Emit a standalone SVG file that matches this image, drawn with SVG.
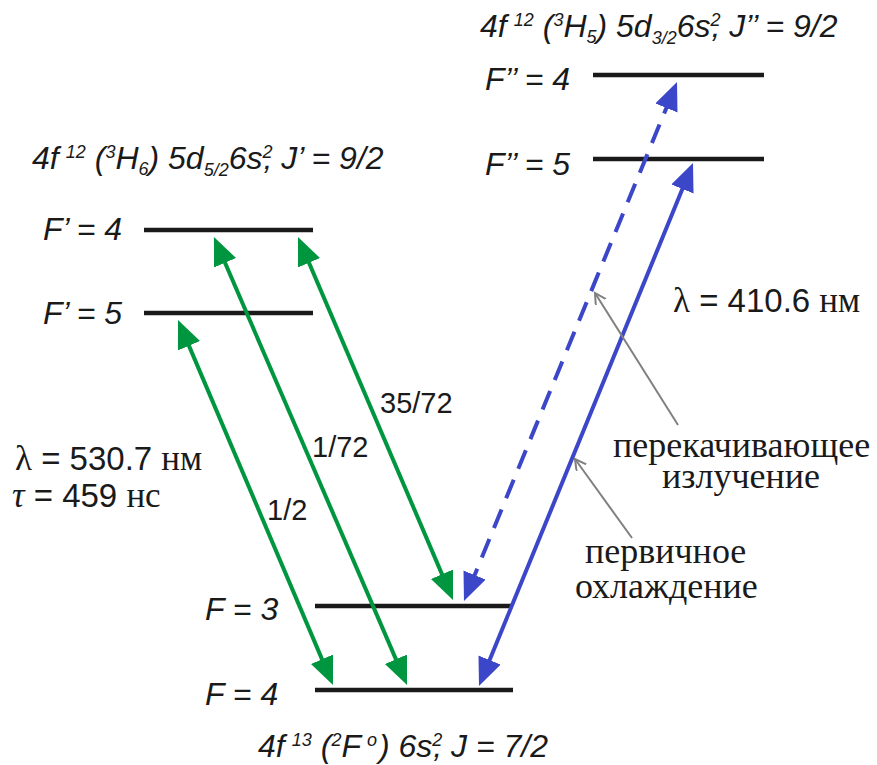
<svg xmlns="http://www.w3.org/2000/svg" width="877" height="765" viewBox="0 0 877 765">
<style>
.lvl{stroke:#1a1a1a;stroke-width:4.5;fill:none}
.lab{font-family:"Liberation Sans",Arial,sans-serif;font-style:italic;font-size:32px;fill:#1a1a1a}
.cfg{font-family:"Liberation Sans",Arial,sans-serif;font-style:italic;font-size:32px;fill:#1a1a1a}
.num{font-family:"Liberation Sans",Arial,sans-serif;font-size:29px;fill:#1a1a1a}
.big{font-family:"Liberation Sans",Arial,sans-serif;font-size:33px;fill:#1a1a1a}
.ser{font-family:"Liberation Serif","Times New Roman",serif;font-size:35px;fill:#1a1a1a}
.rus{font-family:"Liberation Serif","Times New Roman",serif;font-size:36px;fill:#1a1a1a}
.sm{font-size:18px}
.g{stroke:#009640;stroke-width:4;fill:none;marker-start:url(#hg);marker-end:url(#hg)}
.b{stroke:#3c46c8;stroke-width:4;fill:none;marker-start:url(#hb);marker-end:url(#hb)}
.bd{stroke-dasharray:20 12}
.gr{stroke:#808080;stroke-width:2;fill:none;marker-end:url(#hgr)}
</style>
<defs>
<marker id="hg" markerUnits="userSpaceOnUse" markerWidth="30" markerHeight="26" refX="14" refY="12" orient="auto-start-reverse" viewBox="0 0 30 26"><path d="M0,0 L28,12 L0,24 z" fill="#009640"/></marker>
<marker id="hb" markerUnits="userSpaceOnUse" markerWidth="30" markerHeight="26" refX="14" refY="12" orient="auto-start-reverse" viewBox="0 0 30 26"><path d="M0,0 L28,12 L0,24 z" fill="#3c46c8"/></marker>
<marker id="hgr" markerUnits="userSpaceOnUse" markerWidth="14" markerHeight="14" refX="11" refY="6" orient="auto" viewBox="0 0 14 14"><path d="M0,0 L11,6 L0,12" fill="none" stroke="#808080" stroke-width="2"/></marker>
</defs>
<rect width="877" height="765" fill="#ffffff"/>

<g id="state-upper2">
<text class="cfg" x="480" y="37">4f<tspan class="sm" dx="7" dy="-11">12</tspan><tspan dx="9" dy="11">(</tspan><tspan class="sm" dy="-11">3</tspan><tspan dy="11">H</tspan><tspan class="sm" dy="6">5</tspan><tspan dy="-6">) 5d</tspan><tspan class="sm" dy="7">3/2</tspan><tspan dy="-7">6s</tspan><tspan class="sm" dy="-11">2</tspan><tspan dx="-9" dy="11">, J’’ = 9/2</tspan></text>
</g>
<g id="level-Fpp4">
<line class="lvl" x1="593" y1="75" x2="764" y2="75"/>
<text class="lab" x="485" y="90">F’’ = 4</text>
</g>
<g id="level-Fpp5">
<line class="lvl" x1="593" y1="159" x2="764" y2="159"/>
<text class="lab" x="485" y="175">F’’ = 5</text>
</g>

<g id="state-upper1">
<text class="cfg" x="32" y="169">4f<tspan class="sm" dx="7" dy="-11">12</tspan><tspan dx="9" dy="11">(</tspan><tspan class="sm" dy="-11">3</tspan><tspan dy="11">H</tspan><tspan class="sm" dy="6">6</tspan><tspan dy="-6">) 5d</tspan><tspan class="sm" dy="7">5/2</tspan><tspan dy="-7">6s</tspan><tspan class="sm" dy="-11">2</tspan><tspan dx="-9" dy="11">, J’ = 9/2</tspan></text>
</g>
<g id="level-Fp4">
<line class="lvl" x1="144" y1="230" x2="313" y2="230"/>
<text class="lab" x="43" y="240">F’ = 4</text>
</g>
<g id="level-Fp5">
<line class="lvl" x1="144" y1="313" x2="313" y2="313"/>
<text class="lab" x="43" y="324">F’ = 5</text>
</g>

<g id="level-F3">
<line class="lvl" x1="315" y1="606" x2="513" y2="606"/>
<text class="lab" x="205" y="620">F = 3</text>
</g>
<g id="level-F4">
<line class="lvl" x1="315" y1="690" x2="513" y2="690"/>
<text class="lab" x="205" y="705">F = 4</text>
</g>
<g id="state-ground">
<text class="cfg" x="258" y="757">4f<tspan class="sm" dx="7" dy="-11">13</tspan><tspan dx="9" dy="11">(</tspan><tspan class="sm" dy="-11">2</tspan><tspan dy="11">F</tspan><tspan class="sm" dx="6" dy="-11">o</tspan><tspan dx="2" dy="11">) 6s</tspan><tspan class="sm" dy="-11">2</tspan><tspan dx="-9" dy="11">, J = 7/2</tspan></text>
</g>

<g id="connectors">
<line class="g" x1="183.5" y1="332.9" x2="327.5" y2="672.1"/>
<line class="g" x1="219.5" y1="249.9" x2="401.5" y2="672.1"/>
<line class="g" x1="303.5" y1="249.9" x2="447.5" y2="587.1"/>
<line class="b" x1="687.7" y1="176" x2="484.3" y2="673"/>
<line class="b bd" x1="671.7" y1="95" x2="469.3" y2="588"/>
<line class="gr" x1="678" y1="425" x2="595" y2="293"/>
<line class="gr" x1="632" y1="538" x2="575" y2="459"/>
</g>

<g id="labels">
<text class="num" x="380" y="413">35/72</text>
<text class="num" x="312" y="457">1/72</text>
<text class="num" x="267" y="520">1/2</text>
<text x="15" y="470"><tspan class="ser">λ</tspan><tspan class="big"> = 530.7 </tspan><tspan class="ser">нм</tspan></text>
<text x="12" y="507"><tspan class="ser" font-style="italic">τ</tspan><tspan class="big"> = 459 </tspan><tspan class="ser">нс</tspan></text>
<text x="673" y="312"><tspan class="ser">λ</tspan><tspan class="big"> = 410.6 </tspan><tspan class="ser">нм</tspan></text>
<text class="rus" x="613" y="457">перекачивающее</text>
<text class="rus" x="662" y="488">излучение</text>
<text class="rus" x="585" y="563">первичное</text>
<text class="rus" x="575" y="598">охлаждение</text>
</g>
</svg>
